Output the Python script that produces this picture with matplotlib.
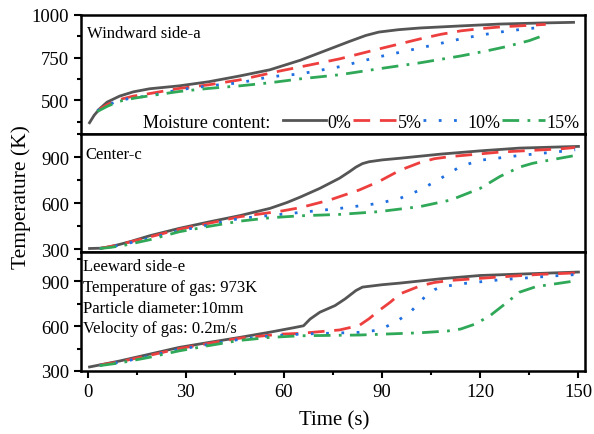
import numpy as np
import matplotlib
matplotlib.use('Agg')
import matplotlib.pyplot as plt
from matplotlib.ticker import MultipleLocator

plt.rcParams['font.family'] = ['Liberation Serif', 'DejaVu Serif']

labels = ['0%', '5%', '10%', '15%']
colors = ['#555555', '#ee3f3f', '#1f6fe0', '#2fa858']
styles = ['-', (0, (6, 3.5)), (0, (1, 4.5)), (0, (6, 3, 1, 3))]

# windward side-a
a_t0 = [0.6, 2, 3.7, 6, 9.8, 14, 19, 28, 37, 46.5, 55.7, 65, 74, 80, 85, 89, 95, 101.6, 114, 126, 138, 148.5]
a_T0 = [369, 412, 451, 490, 525, 550, 568, 585, 609, 643, 679, 735, 801, 845, 880, 900, 914, 924, 936, 947, 953, 957]
a_t5 = [3, 6, 9.8, 14, 19, 28, 37, 46.5, 59, 65, 77, 89, 101.6, 108, 114, 120, 126, 140]
a_T5 = [440, 475, 505, 525, 540, 570, 591, 620, 673, 696, 743, 801, 860, 887, 907, 920, 930, 945]
a_t10 = [3, 6, 9.8, 14, 19, 28, 37, 46.5, 55.7, 65, 77, 89, 101.6, 114, 120, 126, 133, 140]
a_T10 = [440, 472, 500, 515, 527, 562, 585, 603, 638, 655, 697, 755, 807, 860, 882, 900, 917, 930]
a_t15 = [3, 6, 9.8, 14, 19, 28, 37, 46.5, 55.7, 65, 77, 89, 101.6, 114, 122, 128, 135, 140]
a_T15 = [435, 465, 495, 512, 527, 552, 570, 585, 603, 626, 650, 685, 720, 760, 790, 815, 850, 885]

# center-c
c_t0 = [0.6, 4, 6.7, 9.5, 12.9, 19, 28, 37.3, 46.5, 55.7, 61, 65, 71, 77, 80, 82, 84, 86, 90, 95.5, 108, 120, 132, 150]
c_T0 = [305, 307, 316, 330, 349, 388, 436, 479, 519, 566, 605, 640, 697, 763, 805, 835, 858, 870, 882, 893, 920, 941, 959, 970]
c_t5 = [3.7, 7, 11, 19, 28, 37.3, 46.5, 59, 65, 74, 83, 89, 95.5, 101.6, 106, 111, 126, 144.5, 149]
c_T5 = [305, 318, 337, 380, 430, 470, 512, 548, 571, 621, 686, 741, 815, 865, 890, 904, 933, 954, 963]
c_t10 = [3.7, 7, 11, 19, 28, 37.3, 46.5, 59, 65, 77, 89, 95.5, 101.6, 108, 114, 120, 132, 144.5, 149]
c_T10 = [305, 315, 332, 372, 420, 460, 501, 527, 540, 566, 599, 632, 686, 763, 840, 880, 911, 937, 948]
c_t15 = [3.7, 7, 11, 19, 28, 37.3, 46.5, 55.7, 65, 77, 89, 101.6, 111, 120, 126, 132, 136, 140, 149]
c_T15 = [305, 312, 325, 362, 414, 450, 483, 505, 518, 527, 545, 578, 621, 697, 774, 835, 860, 876, 911]

# leeward side-e
e_t0 = [0.6, 9.8, 19, 28, 37, 46.5, 55.7, 63, 66, 68, 71, 75.6, 78.7, 82, 84, 90, 95.5, 108, 120, 150]
e_T0 = [327, 367, 413, 458, 491, 525, 560, 590, 603, 648, 694, 738, 783, 839, 862, 878, 889, 918, 940, 963]
e_t5 = [3.7, 9.8, 19, 28, 37, 46.5, 59, 65, 77, 83, 86, 89, 92.5, 95.5, 101.6, 106, 111, 126, 138, 150]
e_T5 = [340, 362, 405, 450, 485, 520, 547, 552, 575, 605, 650, 704, 761, 817, 870, 893, 907, 930, 947, 958]
e_t10 = [3.7, 9.8, 19, 28, 37, 46.5, 55.7, 65, 83, 89, 94, 98.6, 103, 106, 108, 114, 126, 144.5, 150]
e_T10 = [338, 358, 400, 445, 478, 512, 535, 547, 559, 574, 626, 694, 795, 845, 862, 884, 911, 940, 947]
e_t15 = [3.7, 9.8, 19, 28, 37, 46.5, 55.7, 65, 83, 101.6, 110, 114, 118.5, 123, 127.6, 132, 137, 144.5, 150]
e_T15 = [336, 354, 392, 435, 470, 505, 525, 536, 541, 556, 568, 581, 615, 671, 750, 828, 865, 889, 907]

panels = [
    ([a_t0, a_t5, a_t10, a_t15], [a_T0, a_T5, a_T10, a_T15], (305, 1000), [500, 750, 1000], 125),
    ([c_t0, c_t5, c_t10, c_t15], [c_T0, c_T5, c_T10, c_T15], (280, 1053), [300, 600, 900], 150),
    ([e_t0, e_t5, e_t10, e_t15], [e_T0, e_T5, e_T10, e_T15], (300, 1095), [300, 600, 900], 150),
]

fig = plt.figure(figsize=(5.94, 4.35), dpi=100)
gs = fig.add_gridspec(3, 1, left=81/594, right=585/594, top=1-16/435, bottom=1-372/435, hspace=0)
axes = [fig.add_subplot(gs[i]) for i in range(3)]

for ax, (ts, Ts, ylim, yt, ymin) in zip(axes, panels):
    for t, T, c, ls, lab in zip(ts, Ts, colors, styles, labels):
        ax.plot(t, T, color=c, ls=ls, lw=2, label=lab)
    ax.set_xlim(-2, 152)
    ax.set_ylim(*ylim)
    ax.set_yticks(yt)
    ax.yaxis.set_minor_locator(MultipleLocator(ymin))
    ax.xaxis.set_major_locator(MultipleLocator(30))
    ax.xaxis.set_minor_locator(MultipleLocator(15))
    ax.tick_params(axis='both', which='major', direction='out', length=5, width=1.5, labelsize=13.5)
    ax.tick_params(axis='both', which='minor', direction='out', length=3, width=1.5)
    for s in ax.spines.values():
        s.set_linewidth(1.8)

for ax in axes[:2]:
    ax.tick_params(axis='x', which='both', bottom=False, labelbottom=False)

axes[0].text(0.012, 0.85, 'Windward side-a', transform=axes[0].transAxes, fontsize=12, va='center')
axes[1].text(0.008, 0.83, 'Center-c', transform=axes[1].transAxes, fontsize=12, va='center')
info = ['Leeward side-e', 'Temperature of gas: 973K', 'Particle diameter:10mm', 'Velocity of gas: 0.2m/s']
for i, s in enumerate(info):
    axes[2].text(0.004, 0.885 - i*0.175, s, transform=axes[2].transAxes, fontsize=12, va='center')

fig.text(143/594, 1-123/435, 'Moisture content:', fontsize=13, va='center')
axes[0].legend(loc='center right', bbox_to_anchor=(580/594, 1-123/435), bbox_transform=fig.transFigure,
               ncol=4, frameon=False, fontsize=13, borderpad=0, borderaxespad=0,
               handlelength=2.4, handletextpad=0.1, columnspacing=0.05)

fig.text(21/594, 1-197/435, 'Temperature (K)', rotation=90, va='center', ha='center', fontsize=15.5)
fig.text(334/594, 1-421/435, 'Time (s)', va='center', ha='center', fontsize=15)

fig.savefig('out.png', dpi=100)
